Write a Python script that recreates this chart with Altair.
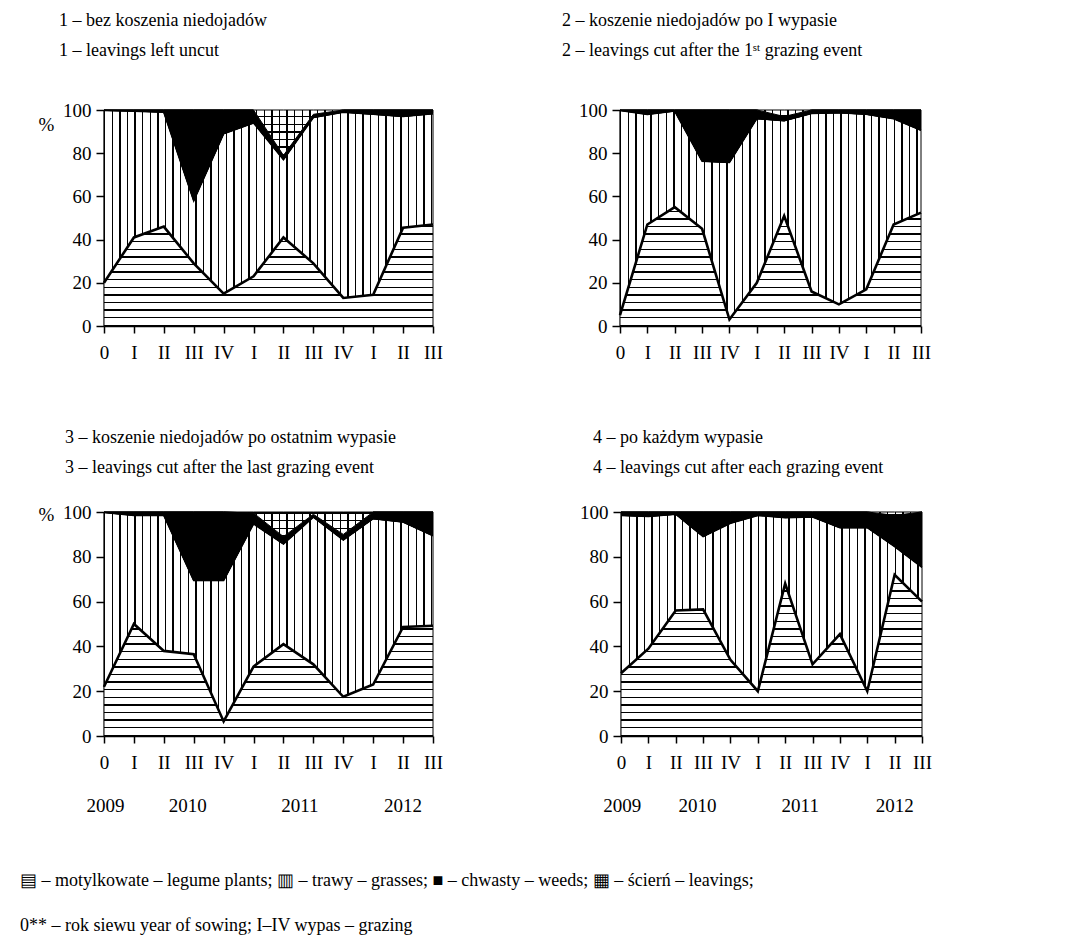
import json
import altair as alt
import pandas as pd

# ---------------- data ----------------
x_labels = ["0", "I", "II", "III", "IV", "I", "II", "III", "IV", "I", "II", "III"]
year_labels = ["2009", "2010", "2011", "2012"]
series_names = ["legume", "grasses", "weeds", "leavings"]

# panel 1 - leavings left uncut
p1_legume = [20, 41, 46, 29, 15, 23, 41, 29, 13, 14.5, 45.5, 47]
p1_grasses = [79.8, 58.5, 53, 29, 74, 71, 36, 67.5, 86, 83.5, 51.5, 51.3]
p1_weeds = [0.2, 0.5, 1, 42, 11, 6, 2, 1.5, 1, 2, 3, 1.7]
p1_leavings = [0, 0, 0, 0, 0, 0, 21, 2, 0, 0, 0, 0]

# panel 2 - leavings cut after the 1st grazing
p2_legume = [5, 47, 55, 45, 3, 20, 51, 16, 10, 17, 47, 52.5]
p2_grasses = [94.8, 51, 44.5, 31.3, 72.7, 76, 44, 82.4, 88.7, 81, 49, 38.1]
p2_weeds = [0.2, 2, 0.5, 23.7, 24.3, 4, 2, 1.6, 1.3, 2, 4, 9.4]
p2_leavings = [0, 0, 0, 0, 0, 0, 3, 0, 0, 0, 0, 0]

# panel 3 - leavings cut after the last grazing
p3_legume = [22, 50, 38, 36.5, 6.5, 31, 41, 32, 17.5, 23, 48.7, 49.2]
p3_grasses = [77.8, 48.5, 60.5, 32.9, 62.9, 63.7, 44.7, 65.7, 70, 74, 46.8, 40.2]
p3_weeds = [0.2, 1.5, 1.5, 30.6, 30.6, 4.8, 3.3, 1.3, 2.5, 3, 4.5, 10.6]
p3_leavings = [0, 0, 0, 0, 0, 0.5, 11, 1, 10, 0, 0, 0]

# panel 4 - leavings cut after each grazing
p4_legume = [28, 39, 56, 56.5, 34, 20, 68, 32, 45.5, 20, 72, 60]
p4_grasses = [70.5, 59, 43, 32.5, 61, 78.5, 29.5, 65.8, 47.5, 73, 12.6, 15.3]
p4_weeds = [1.5, 2, 1, 11, 5, 1.5, 2.5, 2.2, 7, 7, 13.9, 24.7]
p4_leavings = [0, 0, 0, 0, 0, 0, 0, 0, 0, 0, 1.5, 0]

p1_title = ["1 – bez koszenia niedojadów", "1 – leavings left uncut"]
p2_title = ["2 – koszenie niedojadów po I wypasie", "2 – leavings cut after the 1ˢᵗ grazing event"]
p3_title = ["3 – koszenie niedojadów po ostatnim wypasie", "3 – leavings cut after the last grazing event"]
p4_title = ["4 – po każdym wypasie", "4 – leavings cut after each grazing event"]

legend_lines = [
    "▤   – motylkowate – legume plants;  ▥ – trawy – grasses;   ■  – chwasty –  weeds;  ▦ – ścierń – leavings;",
    "0** – rok siewu year of sowing; I–IV wypas – grazing",
]

# ---------------- layout / style ----------------
FONT = "Liberation Serif"
FS = 18
LFS = 19
PERIOD = 7.6
LINE = 1.4
year_x = [0.05, 2.8, 6.55, 10]


def stripes(length_px, horizontal, bg="white", fg="black"):
    stops = []
    pos = 0.0
    length_px = max(length_px, 1.0)
    while pos < length_px - 1e-6:
        a = round(pos / length_px, 5)
        b = round(min(pos + LINE, length_px) / length_px, 5)
        c = round(min(pos + PERIOD, length_px) / length_px, 5)
        stops += [
            alt.GradientStop(color=fg, offset=a),
            alt.GradientStop(color=fg, offset=b),
            alt.GradientStop(color=bg, offset=b),
            alt.GradientStop(color=bg, offset=c),
        ]
        pos += PERIOD
    if horizontal:  # horizontal lines, counted from the bottom
        return alt.LinearGradient(gradient="linear", stops=stops, x1=0, x2=0, y1=1, y2=0)
    return alt.LinearGradient(gradient="linear", stops=stops, x1=0, x2=1, y1=0, y2=0)


def panel(leg, gra, wee, lea, W, H, title, tdx, toffset, pct_y=None, years=False):
    rows = []
    for i in range(len(x_labels)):
        for k, (name, arr) in enumerate(zip(series_names, [leg, gra, wee, lea])):
            rows.append({"x": i, "series": name, "order": k, "value": arr[i]})
    df = pd.DataFrame(rows)
    base = alt.Chart(df).transform_stack(
        stack="value", groupby=["x"], as_=["y0", "y1"],
        sort=[alt.SortField("order", order="ascending")],
    )
    xs = alt.Scale(domain=[0, len(x_labels) - 1], nice=False, zero=False)
    ys = alt.Scale(domain=[0, 100], nice=False)
    label_expr = json.dumps(x_labels) + "[datum.value]"
    common = dict(labelFont=FONT, labelFontSize=LFS, labelColor="black", grid=False,
                  domainColor="black", tickColor="black", domainWidth=1.5, tickWidth=1.5,
                  labelFlush=False)
    x_axis = alt.Axis(values=list(range(len(x_labels))), labelExpr=label_expr, tickSize=7,
                      labelPadding=10, title=None, labelAngle=0, labelOverlap=False, **common)
    y_kw = dict(values=[0, 20, 40, 60, 80, 100], tickSize=8, labelPadding=5, **common)
    if pct_y is not None:
        y_axis = alt.Axis(title="%", titleAngle=0, titleX=-66, titleY=pct_y, titleAlign="left",
                          titleBaseline="middle", titleFont=FONT, titleFontSize=LFS,
                          titleFontWeight="normal", titleColor="black", **y_kw)
    else:
        y_axis = alt.Axis(title=None, **y_kw)

    X = alt.X("x:Q", scale=xs, axis=x_axis)
    Y = alt.Y("y1:Q", scale=ys, axis=y_axis)

    def lay(name):
        return base.transform_filter(alt.datum.series == name)

    leg_grad = stripes(max(leg) / 100 * H, True)
    gra_grad = stripes(W, False)
    lea_h = stripes(max(lea) / 100 * H, True)
    lea_v = stripes(W, False, bg="rgba(255,255,255,0)")

    layers = [
        lay("legume").mark_area(fill=leg_grad, stroke="black", strokeWidth=1).encode(x=X, y=Y, y2="y0:Q"),
        lay("grasses").mark_area(fill=gra_grad, stroke="black", strokeWidth=1).encode(x=X, y=Y, y2="y0:Q"),
        lay("weeds").mark_area(fill="black", stroke="black", strokeWidth=1).encode(x=X, y=Y, y2="y0:Q"),
        lay("leavings").mark_area(fill=lea_h, stroke="black", strokeWidth=1).encode(x=X, y=Y, y2="y0:Q"),
        lay("leavings").mark_area(fill=lea_v, strokeWidth=0).encode(x=X, y=Y, y2="y0:Q"),
        lay("grasses").mark_line(color="black", strokeWidth=1.6).encode(x=X, y=Y),
        lay("legume").mark_line(color="black", strokeWidth=2.6).encode(x=X, y=Y),
    ]
    if years:
        ydf = pd.DataFrame({"year": year_labels, "pos": year_x})
        layers.append(
            alt.Chart(ydf).mark_text(font=FONT, fontSize=LFS, baseline="middle", color="black")
            .encode(x=alt.X("pos:Q", scale=xs, axis=x_axis), y=alt.value(H + 70), text="year:N")
        )
    return alt.layer(*layers).properties(
        width=W, height=H,
        title=alt.TitleParams(text=title, anchor="start", frame="group", dx=tdx, offset=toffset,
                              font=FONT, fontSize=FS, fontWeight="normal", lineHeight=30,
                              baseline="bottom", color="black"),
    )


c1 = panel(p1_legume, p1_grasses, p1_weeds, p1_leavings, 329, 216, p1_title, -45, 23, pct_y=14)
c2 = panel(p2_legume, p2_grasses, p2_weeds, p2_leavings, 301, 216, p2_title, -58, 23)
c3 = panel(p3_legume, p3_grasses, p3_weeds, p3_leavings, 329, 224, p3_title, -39, 8, pct_y=2, years=True)
c4 = panel(p4_legume, p4_grasses, p4_weeds, p4_leavings, 301, 224, p4_title, -28, 8, years=True)

row1 = alt.hconcat(c1, c2, spacing=119)
row2 = alt.hconcat(c3, c4, spacing=136)

chart = alt.vconcat(row1, row2, spacing=67).properties(
    title=alt.TitleParams(text=legend_lines, orient="bottom", anchor="start", frame="bounds",
                          dx=-18, offset=56, font=FONT, fontSize=FS, fontWeight="normal",
                          lineHeight=45, color="black", baseline="top"),
    padding={"left": 12, "top": 4, "right": 5, "bottom": 5},
).configure_view(stroke=None).configure_concat(spacing=0)

chart.save("out.html", embed_options={"renderer": "svg", "actions": False})
